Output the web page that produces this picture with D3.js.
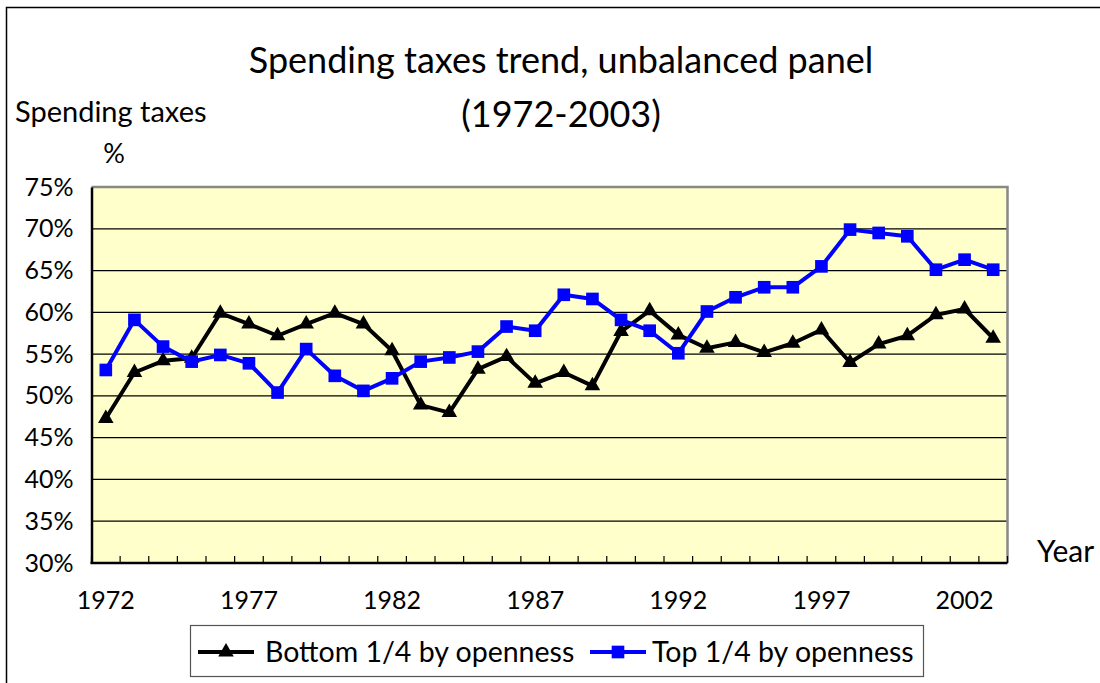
<!DOCTYPE html>
<html>
<head>
<meta charset="utf-8">
<script src="https://cdn.jsdelivr.net/npm/d3@7"></script>
<style>
  body { margin: 0; background: #fff; }
  svg text { font-family: Lato, "Open Sans", sans-serif; fill: #000; }
</style>
</head>
<body>
<script>
// data (percent)
const years = [1972, 1973, 1974, 1975, 1976, 1977, 1978, 1979, 1980, 1981,
               1982, 1983, 1984, 1985, 1986, 1987, 1988, 1989, 1990, 1991,
               1992, 1993, 1994, 1995, 1996, 1997, 1998, 1999, 2000, 2001,
               2002, 2003];
const bottomQuarter = [47.3, 52.8, 54.2, 54.5, 59.9, 58.6, 57.2, 58.6, 59.9, 58.6,
                       55.4, 48.9, 48.0, 53.2, 54.7, 51.5, 52.8, 51.2, 57.7, 60.2,
                       57.3, 55.7, 56.4, 55.2, 56.3, 57.9, 54.0, 56.2, 57.2, 59.7,
                       60.4, 56.9];
const topQuarter = [53.1, 59.1, 55.9, 54.1, 54.9, 53.9, 50.4, 55.6, 52.4, 50.6,
                    52.1, 54.1, 54.6, 55.3, 58.3, 57.8, 62.1, 61.6, 59.1, 57.8,
                    55.1, 60.1, 61.8, 63.0, 63.0, 65.5, 69.9, 69.5, 69.1, 65.1,
                    66.3, 65.1];
const yTicks = [30, 35, 40, 45, 50, 55, 60, 65, 70, 75];
const xLabels = [1972, 1977, 1982, 1987, 1992, 1997, 2002];
const seriesNames = ["Bottom 1/4 by openness", "Top 1/4 by openness"];

document.addEventListener('DOMContentLoaded', () => {
    const W = 1100, H = 683;
    const plot = { left: 91.5, right: 1007.5, top: 187, bottom: 563 };

    const svg = d3.select("body").append("svg")
        .attr("width", W)
        .attr("height", H);

    // outer chart frame (right/bottom run off the picture)
    svg.append("rect")
        .attr("x", 6.5).attr("y", 7.5)
        .attr("width", W + 20).attr("height", H + 20)
        .attr("fill", "#fff").attr("stroke", "#000").attr("stroke-width", 1.5);

    const x = d3.scaleBand().domain(years).range([plot.left, plot.right]).padding(0);
    const y = d3.scaleLinear().domain([30, 75]).range([plot.bottom, plot.top]);
    const cx = d => x(d) + x.bandwidth() / 2;

    // plot background
    svg.append("rect")
        .attr("x", plot.left).attr("y", plot.top)
        .attr("width", plot.right - plot.left).attr("height", plot.bottom - plot.top)
        .attr("fill", "#FFFFCC");

    // gridlines
    svg.append("g").selectAll("line")
        .data(yTicks.filter(t => t > 30 && t < 75))
        .enter().append("line")
        .attr("x1", plot.left).attr("x2", plot.right)
        .attr("y1", d => y(d)).attr("y2", d => y(d))
        .attr("stroke", "#000").attr("stroke-width", 1.2);

    // top & right border (grey)
    svg.append("path")
        .attr("d", `M${plot.left},${plot.top}H${plot.right}V${plot.bottom}`)
        .attr("fill", "none").attr("stroke", "#888").attr("stroke-width", 2.5);

    // y axis
    const yAxis = d3.axisLeft(y)
        .tickValues(yTicks)
        .tickSize(0)
        .tickPadding(18)
        .tickFormat(d => d + "%");
    const gy = svg.append("g")
        .attr("transform", `translate(${plot.left},0)`)
        .call(yAxis);
    gy.select(".domain").attr("stroke", "#000").attr("stroke-width", 2.5);
    gy.selectAll("text")
        .attr("font-size", 25)
        .attr("fill", "#000")
        .style("font-family", "Lato, sans-serif");

    // x axis labels
    const xAxis = d3.axisBottom(x)
        .tickValues(xLabels)
        .tickSize(0)
        .tickPadding(28);
    const gx = svg.append("g")
        .attr("transform", `translate(0,${plot.bottom})`)
        .call(xAxis);
    gx.select(".domain").remove();
    gx.selectAll("text")
        .attr("font-size", 25)
        .attr("fill", "#000")
        .style("font-family", "Lato, sans-serif");

    // category tick marks (inside, between years)
    svg.append("g").selectAll("line")
        .data(years.map(d => x(d)).concat([plot.right]))
        .enter().append("line")
        .attr("x1", d => d).attr("x2", d => d)
        .attr("y1", plot.bottom).attr("y2", plot.bottom - 7)
        .attr("stroke", "#000").attr("stroke-width", 1.2);
    svg.append("line")
        .attr("x1", plot.left - 1).attr("x2", plot.right)
        .attr("y1", plot.bottom).attr("y2", plot.bottom)
        .attr("stroke", "#000").attr("stroke-width", 2.5);

    // series
    const line = d3.line().x(d => cx(d.year)).y(d => y(d.value));
    const rows = (vals) => years.map((yr, i) => ({ year: yr, value: vals[i] }));
    const tri = d3.symbol().type(d3.symbolTriangle).size(105);
    const sq = d3.symbol().type(d3.symbolSquare).size(160);

    const bottomData = rows(bottomQuarter);
    const topData = rows(topQuarter);

    svg.append("path").datum(bottomData)
        .attr("d", line).attr("fill", "none")
        .attr("stroke", "#000").attr("stroke-width", 4).attr("stroke-linejoin", "round");
    svg.append("g").selectAll("path").data(bottomData)
        .enter().append("path")
        .attr("d", tri)
        .attr("transform", d => `translate(${cx(d.year)},${y(d.value)})`)
        .attr("fill", "#000");

    svg.append("path").datum(topData)
        .attr("d", line).attr("fill", "none")
        .attr("stroke", "#0000FF").attr("stroke-width", 4).attr("stroke-linejoin", "round");
    svg.append("g").selectAll("path").data(topData)
        .enter().append("path")
        .attr("d", sq)
        .attr("transform", d => `translate(${cx(d.year)},${y(d.value)})`)
        .attr("fill", "#0000FF");

    // titles
    svg.append("text").attr("x", 561).attr("y", 73)
        .attr("text-anchor", "middle").attr("font-size", 36)
        .text("Spending taxes trend, unbalanced panel");
    svg.append("text").attr("x", 561).attr("y", 127)
        .attr("text-anchor", "middle").attr("font-size", 36)
        .text("(1972-2003)");
    svg.append("text").attr("x", 15).attr("y", 122)
        .attr("font-size", 29)
        .text("Spending taxes");
    svg.append("text").attr("x", 114).attr("y", 163)
        .attr("text-anchor", "middle").attr("font-size", 27)
        .text("%");
    svg.append("text").attr("x", 1037).attr("y", 562)
        .attr("font-size", 30)
        .text("Year");

    // legend
    const lg = svg.append("g");
    lg.append("rect")
        .attr("x", 190.5).attr("y", 625.5).attr("width", 733).attr("height", 51)
        .attr("fill", "#fff").attr("stroke", "#555").attr("stroke-width", 1.2);
    const items = [
        { name: seriesNames[0], color: "#000", sym: tri, x0: 198, tx: 265 },
        { name: seriesNames[1], color: "#0000FF", sym: sq, x0: 590, tx: 652 }
    ];
    items.forEach(it => {
        lg.append("line")
            .attr("x1", it.x0).attr("x2", it.x0 + 56)
            .attr("y1", 652).attr("y2", 652)
            .attr("stroke", it.color).attr("stroke-width", 4);
        lg.append("path")
            .attr("d", it.sym)
            .attr("transform", `translate(${it.x0 + 28},652)`)
            .attr("fill", it.color);
        lg.append("text")
            .attr("x", it.tx).attr("y", 662)
            .attr("font-size", 28.5)
            .text(it.name);
    });
});
</script>
</body>
</html>
